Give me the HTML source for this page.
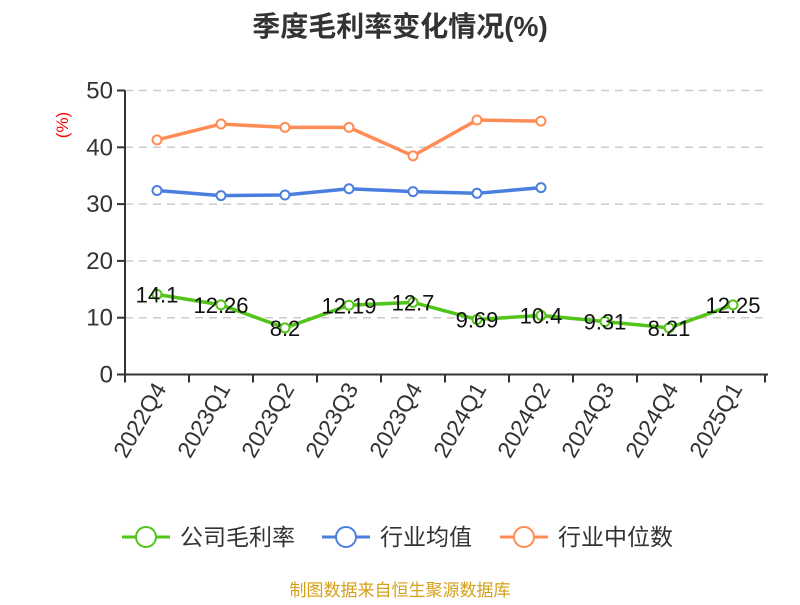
<!DOCTYPE html>
<html><head><meta charset="utf-8"><style>
body{margin:0;background:#fff;}
svg text{font-family:"Liberation Sans","Noto Sans CJK SC",sans-serif;}
</style></head><body>
<svg id="c" width="800" height="600" xmlns="http://www.w3.org/2000/svg">
<text x="400" y="36" text-anchor="middle" font-size="28" font-weight="bold" fill="#333">季度毛利率变化情况(%)</text>
<text transform="translate(68,125) rotate(-90)" text-anchor="middle" font-size="17" fill="#f00">(%)</text>
<g id="grid"></g><g id="axes"></g><g id="series"></g>
<g font-size="23" fill="#333">
<g><line x1="122" y1="537" x2="170" y2="537" stroke="#52c41a" stroke-width="3"/><circle cx="146" cy="537" r="10" fill="#fff" stroke="#52c41a" stroke-width="2"/><text x="180" y="545">公司毛利率</text></g>
<g><line x1="322" y1="537" x2="370" y2="537" stroke="#4a7fe0" stroke-width="3"/><circle cx="346" cy="537" r="10" fill="#fff" stroke="#4a7fe0" stroke-width="2"/><text x="380" y="545">行业均值</text></g>
<g><line x1="500" y1="537" x2="548" y2="537" stroke="#ff8c55" stroke-width="3"/><circle cx="524" cy="537" r="10" fill="#fff" stroke="#ff8c55" stroke-width="2"/><text x="558" y="545">行业中位数</text></g>
</g>
<text x="400" y="596" text-anchor="middle" font-size="17" fill="#d4a017">制图数据来自恒生聚源数据库</text>
</svg>
<script>
const categories=["2022Q4","2023Q1","2023Q2","2023Q3","2023Q4","2024Q1","2024Q2","2024Q3","2024Q4","2025Q1"];
const companyValues=[14.1,12.26,8.2,12.19,12.7,9.69,10.4,9.31,8.21,12.25];
const industryAvg=[32.4,31.5,31.6,32.7,32.2,31.9,32.9];
const industryMedian=[41.3,44.1,43.5,43.5,38.5,44.8,44.6];
const yTicks=[0,10,20,30,40,50];
const NS="http://www.w3.org/2000/svg";
const x0=125,x1=765,y0=374.5,y1=90.5;
const bw=(x1-x0)/categories.length;
const X=i=>x0+bw*(i+0.5);
const Y=v=>y0-(v/50)*(y0-y1);
function mk(t,a,p){const e=document.createElementNS(NS,t);for(const k in a)e.setAttribute(k,a[k]);p.appendChild(e);return e;}
const grid=document.getElementById('grid'),axes=document.getElementById('axes'),ser=document.getElementById('series');
yTicks.forEach(v=>{
 if(v>0){const g=mk('line',{x1:x0,x2:x1,y1:Y(v),y2:Y(v),stroke:'#ccc','stroke-dasharray':'8,6','stroke-width':1.5},grid);
 
 }
 const tk=mk('line',{x1:x0-8,x2:x0,y1:Y(v),y2:Y(v),stroke:'#333','stroke-width':2},axes);
 
 
 const t=mk('text',{x:x0-12,y:Y(v)+8,'text-anchor':'end','font-size':24,fill:'#333'},axes);t.textContent=v;
 
 
});
const ya=mk('line',{x1:x0,x2:x0,y1:y1,y2:y0,stroke:'#333','stroke-width':2},axes);


const xa=mk('line',{x1:x0,x2:x1+3,y1:y0,y2:y0,stroke:'#333','stroke-width':2},axes);


for(let i=0;i<=categories.length;i++){const tk=mk('line',{x1:x0+bw*i,x2:x0+bw*i,y1:y0,y2:y0+8,stroke:'#333','stroke-width':2},axes);
 
 }
categories.forEach((c,i)=>{const t=mk('text',{transform:`translate(${X(i)+10},${y0+14}) rotate(-60)`,'text-anchor':'end','font-size':23,fill:'#333'},axes);t.textContent=c;
 
 });
function line(vals,color,name,labels){
 const g=mk('g',{},ser);
 
 
 mk('polyline',{points:vals.map((v,i)=>X(i)+','+Y(v)).join(' '),fill:'none',stroke:color,'stroke-width':3.5},g);
 vals.forEach((v,i)=>{const p=mk('circle',{cx:X(i),cy:Y(v),r:4.5,fill:'#fff',stroke:color,'stroke-width':2},g);
  
  
  if(labels){const t=mk('text',{x:X(i),y:Y(v)+8,'text-anchor':'middle','font-size':22,fill:'#111'},g);t.textContent=v;
   
   }});
}
line(industryMedian,'#ff8c55','industry-median-line',false);
line(industryAvg,'#4a7fe0','industry-avg-line',false);
line(companyValues,'#52c41a','company-margin-line',true);
</script>
</body></html>
